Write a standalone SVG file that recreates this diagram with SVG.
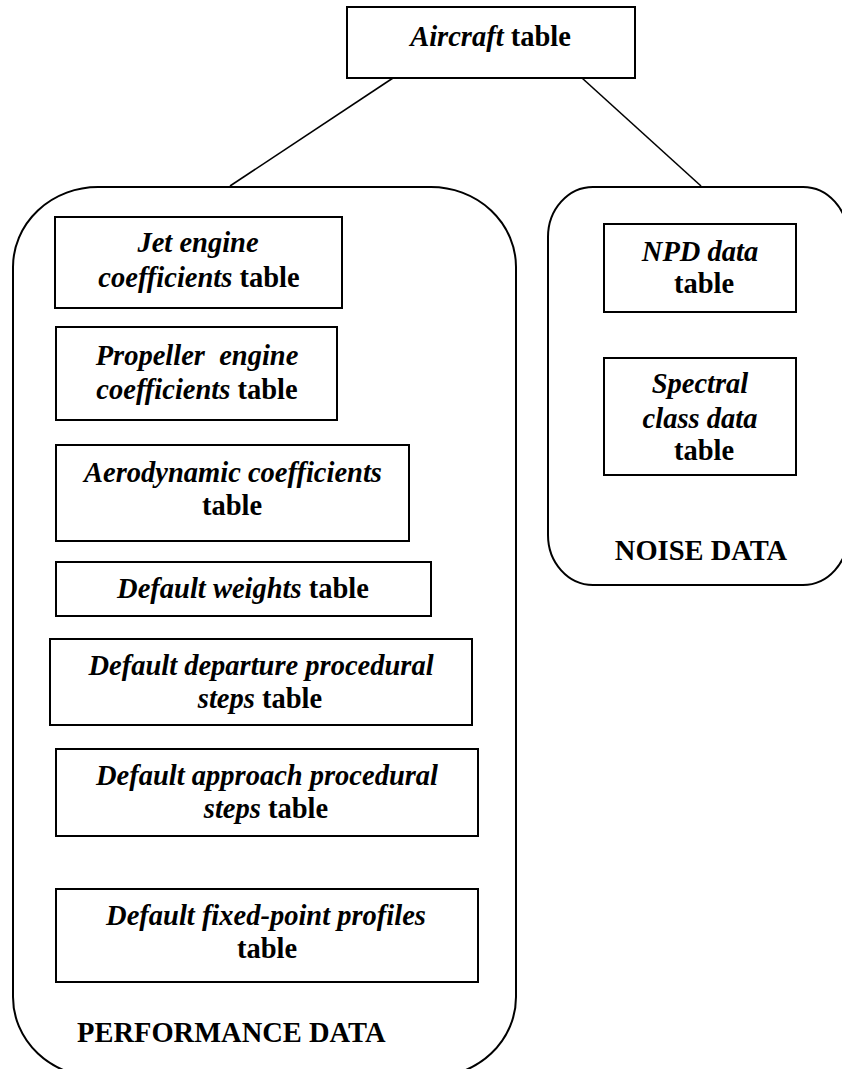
<svg xmlns="http://www.w3.org/2000/svg" width="842" height="1069" viewBox="0 0 842 1069">
<style>
.box{fill:#fff;stroke:#000;stroke-width:2}
.cont{fill:none;stroke:#000;stroke-width:2}
.conn{stroke:#000;stroke-width:1.6;fill:none}
text{font-family:"Liberation Serif","Times New Roman",serif;font-size:28.5px;font-weight:bold;fill:#000;text-anchor:middle}
.i{font-style:italic}
</style>
<rect width="842" height="1069" fill="#fff"/>
<g id="connectors">
<line class="conn" x1="393" y1="78" x2="230" y2="186"/>
<line class="conn" x1="582" y1="78" x2="701" y2="186"/>
</g>
<g id="performance-data">
<rect class="cont" x="13" y="187" width="503" height="890" rx="85" ry="80"/>
<text x="77" y="1042" style="text-anchor:start">PERFORMANCE DATA</text>
</g>
<g id="noise-data">
<rect class="cont" x="548" y="187" width="300" height="398" rx="45" ry="50"/>
<text x="701" y="560">NOISE DATA</text>
</g>
<g id="aircraft">
<rect class="box" x="347" y="7" width="288" height="71"/>
<text x="490.5" y="46"><tspan class="i">Aircraft</tspan> table</text>
</g>
<g id="jet">
<rect class="box" x="55" y="217" width="287" height="91"/>
<text x="198" y="252" class="i">Jet engine</text>
<text x="199" y="287"><tspan class="i">coefficients</tspan> table</text>
</g>
<g id="propeller">
<rect class="box" x="56" y="327" width="281" height="93"/>
<text x="197" y="365" class="i" xml:space="preserve">Propeller  engine</text>
<text x="197" y="399"><tspan class="i">coefficients</tspan> table</text>
</g>
<g id="aero">
<rect class="box" x="56" y="445" width="353" height="96"/>
<text x="233" y="482" class="i">Aerodynamic coefficients</text>
<text x="232" y="515">table</text>
</g>
<g id="weights">
<rect class="box" x="56" y="562" width="375" height="54"/>
<text x="243" y="598"><tspan class="i">Default weights</tspan> table</text>
</g>
<g id="departure">
<rect class="box" x="50" y="639" width="422" height="86"/>
<text x="261" y="675" class="i">Default departure procedural</text>
<text x="260" y="708"><tspan class="i">steps</tspan> table</text>
</g>
<g id="approach">
<rect class="box" x="56" y="749" width="422" height="87"/>
<text x="267" y="785" class="i">Default approach procedural</text>
<text x="266" y="818"><tspan class="i">steps</tspan> table</text>
</g>
<g id="fixedpoint">
<rect class="box" x="56" y="889" width="422" height="93"/>
<text x="266" y="925" class="i">Default fixed-point profiles</text>
<text x="267" y="958">table</text>
</g>
<g id="npd">
<rect class="box" x="604" y="224" width="192" height="88"/>
<text x="700" y="261" class="i">NPD data</text>
<text x="704" y="293">table</text>
</g>
<g id="spectral">
<rect class="box" x="604" y="358" width="192" height="117"/>
<text x="700" y="393" class="i">Spectral</text>
<text x="700" y="428" class="i">class data</text>
<text x="704" y="460">table</text>
</g>
</svg>
